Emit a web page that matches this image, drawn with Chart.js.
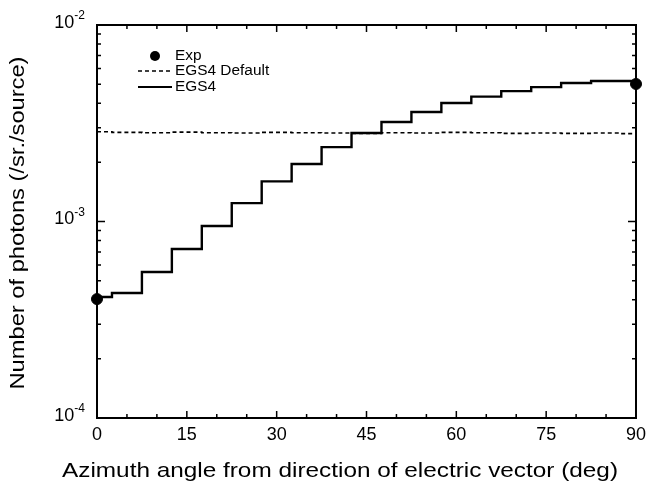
<!DOCTYPE html>
<html><head><meta charset="utf-8">
<script src="https://cdn.jsdelivr.net/npm/chart.js@4.4.1/dist/chart.umd.min.js"></script>
<style>html,body{margin:0;padding:0;background:#fff}#wrap{width:647px;height:489px}</style>
</head><body><div id="wrap"><canvas id="c" width="647" height="489"></canvas></div>
<script>
const angles = [0,5,10,15,20,25,30,35,40,45,50,55,60,65,70,75,80,85,90];
const egs4 = [4.13e-4,4.33e-4,5.53e-4,7.25e-4,9.48e-4,1.24e-3,1.60e-3,1.96e-3,2.39e-3,2.82e-3,3.21e-3,3.61e-3,4.01e-3,4.32e-3,4.61e-3,4.83e-3,5.07e-3,5.19e-3,5.19e-3];
const egs4Default = [2.86e-3,2.84e-3,2.83e-3,2.85e-3,2.83e-3,2.82e-3,2.84e-3,2.83e-3,2.82e-3,2.81e-3,2.83e-3,2.82e-3,2.84e-3,2.83e-3,2.81e-3,2.82e-3,2.81e-3,2.82e-3,2.80e-3];
const expAngles = [0,90];
const expValues = [4.03e-4,5.01e-3];
const xTicks = [0,15,30,45,60,75,90];
const xMinor = [5,10,20,25,35,40,50,55,65,70,80,85];
const yTicks = [1e-4,1e-3,1e-2];
const yTickExp = ['-4','-3','-2'];
const xTitle = 'Azimuth angle from direction of electric vector (deg)';
const yTitle = 'Number of photons (/sr./source)';
const legendLabels = ['Exp','EGS4 Default','EGS4'];

const FONT = '"Liberation Sans", Arial, Helvetica, sans-serif';

function fitText(ctx, text, cx, cy, size, width) {
  ctx.font = size + 'px ' + FONT;
  const w = ctx.measureText(text).width;
  ctx.save();
  ctx.translate(cx, cy);
  ctx.scale(width / w, 1);
  ctx.fillText(text, 0, 0);
  ctx.restore();
}

const decor = {
  id:'decor',
  afterDatasetsDraw(chart){
    const ctx = chart.ctx, xs = chart.scales.x, ys = chart.scales.y, a = chart.chartArea;
    ctx.save();
    ctx.strokeStyle = '#000'; ctx.fillStyle = '#000';
    ctx.lineWidth = 2;
    ctx.strokeRect(a.left, a.top, a.right-a.left, a.bottom-a.top);
    ctx.lineWidth = 1.5;
    const tick = (x, len) => {
      ctx.beginPath();
      ctx.moveTo(x, a.bottom); ctx.lineTo(x, a.bottom-len);
      ctx.moveTo(x, a.top); ctx.lineTo(x, a.top+len);
      ctx.stroke();
    };
    xTicks.forEach(v => tick(xs.getPixelForValue(v), 7));
    xMinor.forEach(v => tick(xs.getPixelForValue(v), 4));
    const ytick = (y, len) => {
      ctx.beginPath();
      ctx.moveTo(a.left, y); ctx.lineTo(a.left+len, y);
      ctx.moveTo(a.right, y); ctx.lineTo(a.right-len, y);
      ctx.stroke();
    };
    yTicks.forEach(v => ytick(ys.getPixelForValue(v), 8));
    for (let d = 1e-4; d < 1e-2*0.99; d *= 10) {
      for (let m = 2; m <= 9; m++) ytick(ys.getPixelForValue(m*d), 4);
    }
    ctx.font = '18px ' + FONT;
    ctx.textAlign = 'center'; ctx.textBaseline = 'middle';
    xTicks.forEach(v => ctx.fillText(String(v), xs.getPixelForValue(v), a.bottom + 17));
    yTicks.forEach((v, i) => {
      const y = ys.getPixelForValue(v);
      ctx.font = '12px ' + FONT;
      const ew = ctx.measureText(yTickExp[i]).width;
      const right = a.left - 12;
      ctx.textAlign = 'right'; ctx.textBaseline = 'middle';
      ctx.fillText(yTickExp[i], right, y - 9);
      ctx.font = '18px ' + FONT;
      ctx.fillText('10', right - ew, y - 2);
    });
    ctx.textAlign = 'center'; ctx.textBaseline = 'middle';
    fitText(ctx, xTitle, 340, 471, 21, 556);
    ctx.save();
    ctx.translate(18, 223); ctx.rotate(-Math.PI/2);
    fitText(ctx, yTitle, 0, 0, 21, 333);
    ctx.restore();
    ctx.font = '14px ' + FONT;
    ctx.textAlign = 'left'; ctx.textBaseline = 'middle';
    const rows = [56, 71, 87];
    ctx.beginPath(); ctx.arc(155, rows[0], 5, 0, Math.PI*2); ctx.fill();
    ctx.lineWidth = 1.5;
    ctx.setLineDash([4,3]);
    ctx.beginPath(); ctx.moveTo(138, rows[1]); ctx.lineTo(172, rows[1]); ctx.stroke();
    ctx.setLineDash([]);
    ctx.lineWidth = 2;
    ctx.beginPath(); ctx.moveTo(138, rows[2]); ctx.lineTo(172, rows[2]); ctx.stroke();
    legendLabels.forEach((t, i) => fitText(ctx, t, 175, rows[i], 14, ctx.measureText(t).width * 1.1));
    ctx.restore();
  }
};

new Chart(document.getElementById('c'), {
  type: 'line',
  data: {
    datasets: [
      { label: legendLabels[2], data: angles.map((x,i)=>({x, y: egs4[i]})), stepped: 'middle',
        borderColor: '#000', borderWidth: 2.4, pointRadius: 0, fill: false },
      { label: legendLabels[1], data: angles.map((x,i)=>({x, y: egs4Default[i]})), stepped: 'middle',
        borderColor: '#000', borderWidth: 1.6, borderDash: [4,3], pointRadius: 0, fill: false },
      { label: legendLabels[0], type: 'scatter', data: expAngles.map((x,i)=>({x, y: expValues[i]})),
        showLine: false, pointRadius: 5.5, pointBackgroundColor: '#000', pointBorderColor: '#000', clip: false }
    ]
  },
  options: {
    responsive: false, animation: false, devicePixelRatio: 1,
    layout: { padding: { left: 89, right: 11, top: 25, bottom: 63 } },
    plugins: { legend: { display: false }, tooltip: { enabled: false } },
    scales: {
      x: { type: 'linear', min: 0, max: 90, display: true,
           ticks: { display: false }, grid: { display: false }, border: { display: false } },
      y: { type: 'logarithmic', min: 1e-4, max: 1e-2, display: true,
           ticks: { display: false }, grid: { display: false }, border: { display: false } }
    }
  },
  plugins: [decor]
});
</script></body></html>
